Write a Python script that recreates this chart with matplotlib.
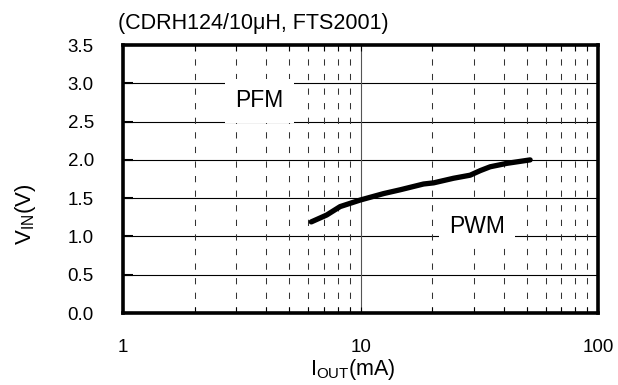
import matplotlib
matplotlib.use("Agg")
import matplotlib.pyplot as plt
from matplotlib.ticker import FixedLocator, NullFormatter, FixedFormatter

plt.rcParams['font.family'] = ['Liberation Sans', 'DejaVu Sans']
plt.rcParams['mathtext.fontset'] = 'custom'
plt.rcParams['mathtext.rm'] = 'Liberation Sans'
plt.rcParams['mathtext.it'] = 'Liberation Sans'

# data
iout_ma = [6.2, 7.2, 8.2, 9.95, 12.5, 14.7, 18.4, 20.3, 24.6, 28.9, 31.9, 35.1, 41.3, 51.7]
vin_v = [1.19, 1.28, 1.39, 1.475, 1.56, 1.61, 1.685, 1.70, 1.76, 1.80, 1.86, 1.91, 1.955, 2.0]
x_major = [1, 10, 100]
x_labels = ["1", "10", "100"]
y_ticks = [0.0, 0.5, 1.0, 1.5, 2.0, 2.5, 3.0, 3.5]

fig = plt.figure(figsize=(6.18, 3.85), dpi=100)
ax = fig.add_axes([0.199, 0.187, 0.769, 0.696])
ax.set_xscale('log')
ax.set_xlim(1, 100)
ax.set_ylim(0, 3.5)

minor = [m * d for d in (1, 10) for m in range(2, 10)]
ax.xaxis.set_major_locator(FixedLocator(x_major))
ax.xaxis.set_major_formatter(FixedFormatter(x_labels))
ax.xaxis.set_minor_locator(FixedLocator(minor))
ax.xaxis.set_minor_formatter(NullFormatter())
ax.set_yticks(y_ticks)
ax.set_yticklabels([f"{v:.1f}" for v in y_ticks])

# grid
for v in y_ticks[1:-1]:
    ax.axhline(v, color='black', lw=0.8, zorder=1)
ax.axvline(10, color='#555555', lw=0.8, zorder=1)
for m in minor:
    ax.axvline(m, color='#333333', lw=0.75, ls=(0, (6, 8)), zorder=1)

ax.plot(iout_ma, vin_v, color='black', lw=3.8, solid_capstyle='round', zorder=5)

for s in ax.spines.values():
    s.set_linewidth(2.6)

ax.tick_params(axis='x', which='both', direction='in', top=True, bottom=True,
               labelsize=13.5, pad=19)
ax.tick_params(axis='x', which='minor', length=4, width=0.8)
ax.tick_params(axis='x', which='major', length=4, width=0.8)
ax.tick_params(axis='y', direction='in', left=True, right=False, length=7, width=1.5,
               labelsize=13.5, pad=21)

bbox = dict(boxstyle='square,pad=0.45', fc='white', ec='none')
ax.text(3.756, 2.77, 'PFM', fontsize=16.5, ha='center', va='center', bbox=bbox, zorder=3)
ax.text(30.94, 1.136, 'PWM', fontsize=16.5, ha='center', va='center', bbox=bbox, zorder=3)

ax.set_xlabel(r'I$_{\mathrm{OUT}}$(mA)', fontsize=15.5)
ax.xaxis.set_label_coords(0.484, -0.165)
ax.set_ylabel(r'V$_{\mathrm{IN}}$(V)', fontsize=16)
ax.yaxis.set_label_coords(-0.178, 0.37)

fig.text(118 / 618, 1 - 29 / 385, '(CDRH124/10μH, FTS2001)', fontsize=15.5,
         ha='left', va='baseline')

fig.savefig('out.png', dpi=100)
